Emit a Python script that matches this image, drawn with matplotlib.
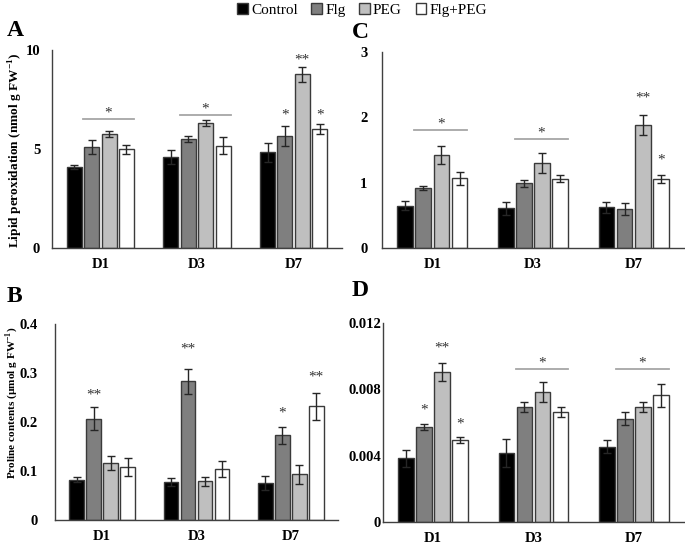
import matplotlib
matplotlib.use("Agg")
import matplotlib.pyplot as plt
import numpy as np
from matplotlib.patches import Patch

plt.rcParams['font.family'] = ['Liberation Serif', 'DejaVu Serif']
plt.rcParams['mathtext.fontset'] = 'custom'
plt.rcParams['mathtext.rm'] = 'Liberation Serif'
plt.rcParams['mathtext.bf'] = 'Liberation Serif:bold'

days = ["D1", "D3", "D7"]
treatments = ["Control", "Flg", "PEG", "Flg+PEG"]
colors = ["#000000", "#7f7f7f", "#bfbfbf", "#ffffff"]

# Panel A: Lipid peroxidation
lipid = {
    "Control": [4.09, 4.60, 4.83],
    "Flg": [5.10, 5.50, 5.66],
    "PEG": [5.76, 6.31, 8.77],
    "Flg+PEG": [4.98, 5.17, 6.01],
}
lipid_err = {
    "Control": [0.12, 0.35, 0.47],
    "Flg": [0.37, 0.17, 0.52],
    "PEG": [0.17, 0.17, 0.37],
    "Flg+PEG": [0.22, 0.44, 0.25],
}
# Panel B: Proline
proline = {
    "Control": [0.0825, 0.078, 0.0756],
    "Flg": [0.207, 0.283, 0.173],
    "PEG": [0.1165, 0.079, 0.093],
    "Flg+PEG": [0.108, 0.1036, 0.232],
}
proline_err = {
    "Control": [0.005, 0.008, 0.014],
    "Flg": [0.023, 0.025, 0.017],
    "PEG": [0.015, 0.009, 0.020],
    "Flg+PEG": [0.018, 0.016, 0.027],
}
# Panel C
panel_c = {
    "Control": [0.65, 0.61, 0.62],
    "Flg": [0.92, 0.99, 0.60],
    "PEG": [1.42, 1.30, 1.88],
    "Flg+PEG": [1.07, 1.06, 1.05],
}
panel_c_err = {
    "Control": [0.07, 0.10, 0.09],
    "Flg": [0.03, 0.05, 0.09],
    "PEG": [0.14, 0.15, 0.15],
    "Flg+PEG": [0.10, 0.05, 0.06],
}
# Panel D
panel_d = {
    "Control": [0.00384, 0.00416, 0.00454],
    "Flg": [0.00573, 0.00693, 0.00623],
    "PEG": [0.00905, 0.00784, 0.00693],
    "Flg+PEG": [0.00494, 0.00663, 0.00764],
}
panel_d_err = {
    "Control": [0.0005, 0.00086, 0.0004],
    "Flg": [0.00018, 0.0003, 0.0004],
    "PEG": [0.00052, 0.0006, 0.00028],
    "Flg+PEG": [0.00018, 0.0003, 0.00068],
}

# significance: (day index, treatment index, label, y)
stars_a = [(2, 1, "*", 6.73), (2, 2, "**", 9.5), (2, 3, "*", 6.7)]
lines_a = [(0, 6.53, "*"), (1, 6.7, "*")]
stars_b = [(0, 1, "**", 0.255), (1, 1, "**", 0.348), (2, 1, "*", 0.219), (2, 3, "**", 0.292)]
lines_b = []
stars_c = [(2, 2, "**", 2.3), (2, 3, "*", 1.35)]
lines_c = [(0, 1.81, "*"), (1, 1.67, "*")]
stars_d = [(0, 1, "*", 0.00677), (0, 2, "**", 0.0105), (0, 3, "*", 0.00593)]
lines_d = [(1, 0.00925, "*"), (2, 0.00925, "*")]

W, H = 685, 544
fig = plt.figure(figsize=(W / 100, H / 100), dpi=100)

def ax_px(l, r, t, b):
    return fig.add_axes([l / W, 1 - b / H, (r - l) / W, (b - t) / H])

step = 0.18
bw = 0.155
offsets = (np.arange(4) - 1.5) * step
spine_c = "#404040"

def draw(ax, data, err, ylim, yticks, yticklabels, stars, lines, ypad):
    x = np.arange(len(days))
    for i, t in enumerate(treatments):
        ax.bar(x + offsets[i], data[t], width=bw, color=colors[i],
               edgecolor="#3a3a3a", linewidth=1.0, zorder=2)
        ax.errorbar(x + offsets[i], data[t], yerr=err[t], fmt="none",
                    ecolor="#262626", elinewidth=1.0, capsize=3, capthick=1.0, zorder=3)
    for d, ti, lab, y in stars:
        ax.text(x[d] + offsets[ti], y, lab, ha="center", va="center",
                fontsize=11, color="#333333")
    for d, y, lab in lines:
        x0 = x[d] + offsets[1] - bw / 2 - 0.01
        x1 = x[d] + offsets[3] + bw / 2
        ax.plot([x0, x1], [y, y], color="#a6a6a6", lw=1.3, zorder=1)
        ax.text((x0 + x1) / 2, y + (ylim[1] - ylim[0]) * 0.03, lab, ha="center",
                va="center", fontsize=11, color="#333333")
    ax.set_xlim(-0.5, 2.5)
    ax.set_ylim(*ylim)
    ax.set_yticks(yticks)
    ax.set_yticklabels(yticklabels, fontsize=10.5, fontweight="bold")
    ax.set_xticks(x)
    ax.set_xticklabels(days, fontsize=10.5, fontweight="bold")
    ax.tick_params(axis="x", length=0, pad=7)
    ax.tick_params(axis="y", length=0, pad=ypad)
    for s in ["top", "right"]:
        ax.spines[s].set_visible(False)
    for s in ["left", "bottom"]:
        ax.spines[s].set_color(spine_c)
        ax.spines[s].set_linewidth(1.0)

axA = ax_px(52, 342, 50, 248)
draw(axA, lipid, lipid_err, (0, 10), [0, 5, 10], ["0", "5", "10"], stars_a, lines_a, 8.5)
axC = ax_px(382, 684, 52, 248)
draw(axC, panel_c, panel_c_err, (0, 3), [0, 1, 2, 3], ["0", "1", "2", "3"], stars_c, lines_c, 10.5)
axB = ax_px(55, 338, 324, 520)
draw(axB, proline, proline_err, (0, 0.4), [0, 0.1, 0.2, 0.3, 0.4],
     ["0", "0.1", "0.2", "0.3", "0.4"], stars_b, lines_b, 12.5)
axD = ax_px(383, 684, 323, 522)
draw(axD, panel_d, panel_d_err, (0, 0.012), [0, 0.004, 0.008, 0.012],
     ["0", "0.004", "0.008", "0.012"], stars_d, lines_d, 1.5)

fig.text(16 / W, 1 - 150 / H, "Lipid peroxidation (nmol g FW$^{\\mathbf{-1}}$)",
         rotation=90, fontsize=9.6, fontweight="bold", ha="center", va="center")
fig.text(12 / W, 1 - 403 / H, "Proline contents (\u00b5mol g FW$^{\\mathbf{-1}}$)",
         rotation=90, fontsize=8.1, fontweight="bold", ha="center", va="center")

for lab, (px, py) in {"A": (7, 30), "C": (352, 32), "B": (7, 297), "D": (352, 291)}.items():
    fig.text(px / W, 1 - py / H, lab, fontsize=17, fontweight="bold", ha="left", va="center")

handles = [Patch(facecolor=c, edgecolor="#3a3a3a", linewidth=1.0) for c in colors]
fig.legend(handles, treatments, loc="center", bbox_to_anchor=(362 / W, 1 - 10 / H),
           ncol=4, frameon=False, fontsize=11, handlelength=0.7, handleheight=0.7,
           handletextpad=0.2, columnspacing=0.9, borderpad=0)

fig.savefig("out.png", dpi=100)
